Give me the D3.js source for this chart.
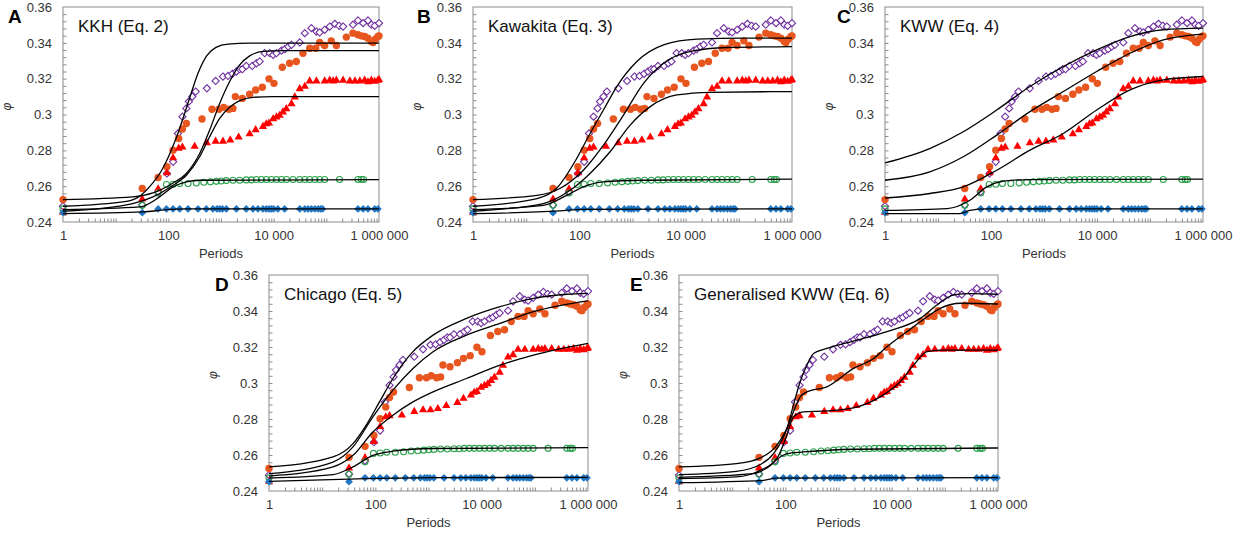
<!DOCTYPE html>
<html>
<head>
<meta charset="utf-8">
<script src="https://cdn.jsdelivr.net/npm/d3@7"></script>
<style>
  body { margin: 0; background: #fff; }
  svg { display: block; font-family: "Liberation Sans", Arial, sans-serif; }
</style>
</head>
<body>
<script>
// measured data, [periods, phi]
const purpleData = [[1,0.2488],[32,0.2495],[64,0.2568],[94,0.2671],[123,0.2736],[152,0.2894],[185,0.2988],[220,0.3034],[245,0.3072],[285,0.3100],[330,0.3128],[540,0.3146],[790,0.3187],[1090,0.3212],[1360,0.3215],[1650,0.3227],[1960,0.3240],[2260,0.3253],[2540,0.3253],[3020,0.3271],[3920,0.3271],[4700,0.3286],[5420,0.3296],[6770,0.3342],[8440,0.3342],[9760,0.3333],[11300,0.3342],[14100,0.3357],[16300,0.3365],[18900,0.3379],[21800,0.3389],[31300,0.3402],[39000,0.3454],[52100,0.3482],[64800,0.3463],[74700,0.3458],[93000,0.3473],[116000,0.3491],[145000,0.3506],[175000,0.3495],[208000,0.3491],[321000,0.3501],[399000,0.3525],[500000,0.3510],[618000,0.3525],[715000,0.3501],[830000,0.3495],[1000000,0.3510]];

const orangeData = [[1,0.2525],[32,0.2587],[64,0.2648],[94,0.2708],[123,0.2801],[157,0.2866],[185,0.2919],[220,0.2950],[436,0.2975],[675,0.3029],[916,0.3029],[1124,0.3040],[1419,0.3029],[1690,0.3034],[1871,0.3100],[2541,0.3090],[3500,0.3113],[4553,0.3137],[6090,0.3152],[8150,0.3199],[10140,0.3174],[14600,0.3264],[20100,0.3286],[26900,0.3296],[36000,0.3342],[48300,0.3370],[62700,0.3370],[74700,0.3402],[92900,0.3385],[124000,0.3411],[155000,0.3385],[240000,0.3432],[321000,0.3454],[399000,0.3445],[462000,0.3439],[534000,0.3435],[618000,0.3426],[715000,0.3407],[769000,0.3402],[851000,0.3420],[955000,0.3435],[1000000,0.3439]];

const redData = [[1,0.2456],[32,0.2530],[64,0.2587],[94,0.2676],[123,0.2760],[157,0.2814],[185,0.2820],[316,0.2824],[540,0.2844],[790,0.2853],[1090,0.2853],[1500,0.2860],[2160,0.2876],[3500,0.2894],[4550,0.2917],[6270,0.2935],[7230,0.2950],[8150,0.2954],[9760,0.2978],[11300,0.2988],[13000,0.2997],[15000,0.3016],[17400,0.3034],[21800,0.3062],[25200,0.3100],[31300,0.3146],[39000,0.3159],[48300,0.3189],[64800,0.3189],[93000,0.3189],[116000,0.3193],[135000,0.3189],[155000,0.3193],[208000,0.3193],[280000,0.3189],[350000,0.3189],[433000,0.3189],[534000,0.3193],[618000,0.3184],[715000,0.3193],[830000,0.3187],[955000,0.3193],[1000000,0.3197]];

const greenData = [[1,0.2473],[32,0.2493],[64,0.2562],[92,0.2609],[123,0.2611],[164,0.2615],[237,0.2615],[340,0.2618],[470,0.2622],[630,0.2624],[815,0.2627],[1010,0.2629],[1260,0.2631],[1690,0.2633],[2260,0.2633],[3020,0.2635],[3760,0.2635],[4700,0.2637],[5860,0.2637],[7260,0.2637],[9030,0.2637],[11300,0.2637],[14100,0.2637],[17500,0.2637],[23300,0.2637],[31300,0.2637],[39000,0.2637],[48300,0.2637],[60700,0.2637],[74700,0.2637],[93000,0.2637],[178000,0.2637],[399000,0.2637],[462000,0.2637],[510000,0.2637]];

const blueData = [[1,0.2452],[32,0.2452],[64,0.2473],[92,0.2473],[123,0.2473],[164,0.2473],[237,0.2473],[367,0.2473],[527,0.2473],[703,0.2473],[840,0.2473],[944,0.2473],[1060,0.2473],[1260,0.2473],[1960,0.2473],[3020,0.2473],[4050,0.2473],[5030,0.2473],[6270,0.2473],[7260,0.2473],[8150,0.2473],[9030,0.2473],[9990,0.2473],[12010,0.2473],[16140,0.2473],[31300,0.2473],[39000,0.2473],[45200,0.2473],[52100,0.2473],[60700,0.2473],[70000,0.2473],[78100,0.2473],[84700,0.2473],[399000,0.2473],[500000,0.2473],[618000,0.2473],[830000,0.2473],[955000,0.2473]];

// fitted curves
const kkhPurple = [[1,0.2488],[16,0.2515],[29,0.2545],[45,0.2600],[75,0.2689],[144,0.2876],[247,0.3081],[366,0.3230],[542,0.3330],[804,0.3375],[1358,0.3393],[3550,0.3398],[1000000,0.3398]];
const kkhOrange = [[1,0.2525],[21,0.2540],[51,0.2562],[123,0.2618],[220,0.2671],[394,0.2782],[609,0.2913],[944,0.3062],[1461,0.3184],[2262,0.3277],[3501,0.3327],[6268,0.3352],[15030,0.3357],[1000000,0.3357]];
const kkhRed = [[1,0.2460],[21,0.2503],[51,0.2540],[123,0.2605],[220,0.2661],[394,0.2764],[609,0.2876],[944,0.2978],[1461,0.3040],[2262,0.3077],[4053,0.3096],[9712,0.3100],[1000000,0.3100]];
const kkhGreen = [[1,0.2469],[29,0.2484],[68,0.2540],[123,0.2596],[220,0.2624],[394,0.2633],[1000000,0.2637]];
const kkhBlue = [[1,0.2447],[33,0.2456],[92,0.2469],[220,0.2473],[1000000,0.2473]];

const kawPurple = [[1,0.2488],[16,0.2531],[37,0.2587],[89,0.2754],[159,0.2894],[284,0.3025],[506,0.3156],[1208,0.3296],[3846,0.3389],[16370,0.3421],[124200,0.3426],[1000000,0.3426]];
const kawOrange = [[1,0.2525],[16,0.2549],[43,0.2587],[119,0.2689],[284,0.2829],[676,0.2997],[1614,0.3174],[3846,0.3286],[12250,0.3352],[60260,0.3374],[1000000,0.3379]];
const kawRed = [[1,0.2460],[21,0.2503],[67,0.2577],[159,0.2671],[379,0.2792],[904,0.2941],[2153,0.3044],[6855,0.3109],[29170,0.3124],[1000000,0.3128]];
const kawGreen = [[1,0.2469],[21,0.2493],[58,0.2549],[119,0.2596],[284,0.2624],[1614,0.2633],[1000000,0.2639]];
const kawBlue = [[1,0.2447],[43,0.2462],[119,0.2471],[1000000,0.2473]];

const kwwPurple = [[1,0.2730],[7,0.2810],[30,0.2904],[128,0.3025],[544,0.3156],[2317,0.3268],[9860,0.3361],[42000,0.3435],[178600,0.3473],[1000000,0.3482]];
const kwwOrange = [[1,0.2633],[7,0.2680],[30,0.2764],[128,0.2885],[544,0.3016],[2317,0.3128],[9860,0.3240],[42000,0.3342],[178600,0.3417],[1000000,0.3449]];
const kwwRed = [[1,0.2534],[7,0.2559],[30,0.2596],[128,0.2689],[544,0.2801],[2317,0.2894],[9860,0.3025],[42000,0.3137],[178600,0.3193],[1000000,0.3212]];
const kwwGreen = [[1,0.2465],[15,0.2475],[40,0.2521],[83,0.2596],[171,0.2628],[544,0.2637],[1000000,0.2639]];
const kwwBlue = [[1,0.2447],[26,0.2447],[40,0.2465],[83,0.2473],[1000000,0.2473]];

const chiPurple = [[1,0.2534],[16,0.2589],[38,0.2663],[67,0.2765],[120,0.2895],[214,0.3025],[510,0.3174],[1218,0.3266],[5190,0.3359],[22130,0.3424],[94400,0.3470],[402700,0.3493],[1000000,0.3498]];
const chiOrange = [[1,0.2496],[16,0.2561],[38,0.2645],[90,0.2812],[214,0.2960],[510,0.3081],[1218,0.3174],[5190,0.3266],[22130,0.3331],[94400,0.3396],[1000000,0.3456]];
const chiRed = [[1,0.2483],[16,0.2534],[38,0.2598],[90,0.2728],[214,0.2821],[510,0.2895],[1218,0.2951],[5190,0.3025],[22130,0.3099],[94400,0.3155],[1000000,0.3220]];
const chiGreen = [[1,0.2472],[16,0.2491],[38,0.2534],[90,0.2598],[214,0.2621],[1218,0.2636],[1000000,0.2641]];
const chiBlue = [[1,0.2454],[67,0.2469],[1218,0.2474],[1000000,0.2476]];

const gkwwPurple = [[1,0.2491],[12,0.2509],[34,0.2547],[60,0.2608],[107,0.2747],[142,0.2877],[190,0.3007],[254,0.3099],[339,0.3164],[604,0.3192],[1919,0.3233],[8147,0.3285],[34600,0.3359],[71200,0.3433],[146600,0.3489],[302000,0.3496],[1000000,0.3493]];
const gkwwOrange = [[1,0.2534],[12,0.2552],[34,0.2584],[69,0.2654],[107,0.2747],[142,0.2840],[190,0.2923],[254,0.2951],[604,0.2979],[1919,0.3081],[4571,0.3136],[8147,0.3201],[19410,0.3285],[34600,0.3340],[82200,0.3415],[196000,0.3443],[1000000,0.3439]];
const gkwwRed = [[1,0.2469],[12,0.2478],[34,0.2515],[69,0.2580],[107,0.2710],[142,0.2812],[220,0.2840],[604,0.2845],[1919,0.2862],[6095,0.2923],[14520,0.3007],[25880,0.3099],[46130,0.3174],[82200,0.3183],[1000000,0.3183]];
const gkwwGreen = [[1,0.2476],[25,0.2496],[45,0.2528],[80,0.2589],[107,0.2608],[220,0.2617],[1919,0.2632],[1000000,0.2639]];
const gkwwBlue = [[1,0.2446],[39,0.2459],[69,0.2472],[1000000,0.2474]];

// axis ticks
const xTicks = [1, 100, 10000, 1000000];
const xTickLabels = ["1", "100", "10 000", "1 000 000"];
const yTicks = [0.24, 0.26, 0.28, 0.3, 0.32, 0.34, 0.36];
const yTickLabels = ["0.24", "0.26", "0.28", "0.3", "0.32", "0.34", "0.36"];

const panels = [
  { letter: "A", title: "KKH (Eq. 2)", left: 63, right: 379, top: 7, bottom: 222, letterX: 8,
    fits: [kkhPurple, kkhOrange, kkhRed, kkhGreen, kkhBlue] },
  { letter: "B", title: "Kawakita (Eq. 3)", left: 473, right: 792, top: 7, bottom: 222, letterX: 417,
    fits: [kawPurple, kawOrange, kawRed, kawGreen, kawBlue] },
  { letter: "C", title: "KWW (Eq. 4)", left: 885, right: 1203, top: 7, bottom: 222, letterX: 837,
    fits: [kwwPurple, kwwOrange, kwwRed, kwwGreen, kwwBlue] },
  { letter: "D", title: "Chicago (Eq. 5)", left: 269, right: 588, top: 275, bottom: 491, letterX: 215,
    fits: [chiPurple, chiOrange, chiRed, chiGreen, chiBlue] },
  { letter: "E", title: "Generalised KWW (Eq. 6)", left: 679, right: 998, top: 275, bottom: 491, letterX: 630,
    fits: [gkwwPurple, gkwwOrange, gkwwRed, gkwwGreen, gkwwBlue] }
];

const diamond = r => `M0,${-r}L${r},0L0,${r}L${-r},0Z`;
const triangle = `M0,-4.3L4.1,2.8L-4.1,2.8Z`;

const series = [
  { data: purpleData, path: diamond(3.6), fill: "#fff", stroke: "#7030A0", sw: 1.1 },
  { data: orangeData, circle: 3.7, fill: "#E8561F", stroke: "none", sw: 0 },
  { data: redData, path: triangle, fill: "#FF0000", stroke: "none", sw: 0 },
  { data: greenData, circle: 3, fill: "none", stroke: "#2CA24E", sw: 1.1 },
  { data: blueData, path: diamond(3.9), fill: "#2177C4", stroke: "none", sw: 0 }
];

const frameColor = "#8c8c8c";

const svg = d3.select("body").append("svg")
  .attr("width", 1248)
  .attr("height", 536);

panels.forEach(p => {
  const g = svg.append("g");

  const x = d3.scaleLog().domain([1, 1000000]).range([p.left, p.right]);
  const y = d3.scaleLinear().domain([0.24, 0.36]).range([p.bottom, p.top]);

  // plot frame
  g.append("rect")
    .attr("x", p.left).attr("y", p.top)
    .attr("width", p.right - p.left).attr("height", p.bottom - p.top)
    .attr("fill", "none").attr("stroke", frameColor).attr("stroke-width", 1);

  // inward log ticks on x
  const xMinor = [];
  for (let e = 0; e < 6; e++) for (let m = 1; m < 10; m++) if (m * 10 ** e > 1) xMinor.push(m * 10 ** e);
  g.append("g")
    .attr("transform", `translate(0,${p.bottom})`)
    .call(d3.axisBottom(x).tickValues(xMinor).tickSize(-3.5).tickFormat(""))
    .call(s => s.select(".domain").remove())
    .selectAll("line").attr("stroke", frameColor);

  // inward ticks on y every 0.004
  const yMinor = d3.range(1, 30).map(i => 0.24 + i * 0.004);
  g.append("g")
    .attr("transform", `translate(${p.left},0)`)
    .call(d3.axisLeft(y).tickValues(yMinor).tickSize(-3.5).tickFormat(""))
    .call(s => s.select(".domain").remove())
    .selectAll("line").attr("stroke", frameColor);

  // x labels
  g.append("g")
    .attr("transform", `translate(0,${p.bottom})`)
    .call(d3.axisBottom(x).tickValues(xTicks).tickSize(0).tickPadding(9)
      .tickFormat(d => xTickLabels[xTicks.indexOf(d)]))
    .call(s => s.select(".domain").remove())
    .attr("font-size", 13).attr("font-family", null)
    .selectAll("text").attr("fill", "#333");

  // y labels
  g.append("g")
    .attr("transform", `translate(${p.left},0)`)
    .call(d3.axisLeft(y).tickValues(yTicks).tickSize(0).tickPadding(11)
      .tickFormat(d => yTickLabels[yTicks.indexOf(d)]))
    .call(s => s.select(".domain").remove())
    .attr("font-size", 13).attr("font-family", null)
    .selectAll("text").attr("fill", "#333");

  // axis titles
  g.append("text")
    .attr("x", (p.left + p.right) / 2).attr("y", p.bottom + 36)
    .attr("text-anchor", "middle").attr("font-size", 13).attr("fill", "#333")
    .text("Periods");

  const cy = (p.top + p.bottom) / 2 - 8;
  g.append("text")
    .attr("transform", `translate(${p.left - 52},${cy}) rotate(-90)`)
    .attr("text-anchor", "middle").attr("font-size", 12).attr("font-style", "italic")
    .attr("fill", "#333")
    .text("φ");

  // panel letter and title
  g.append("text")
    .attr("x", p.letterX).attr("y", p.top + 15.5)
    .attr("font-size", 19).attr("font-weight", "bold").attr("fill", "#000")
    .text(p.letter);

  g.append("text")
    .attr("x", p.left + 15).attr("y", p.top + 25)
    .attr("font-size", 17).attr("fill", "#111")
    .text(p.title);

  // data markers
  series.forEach(s => {
    const sel = g.append("g").selectAll("path, circle").data(s.data).enter();
    if (s.circle) {
      sel.append("circle")
        .attr("cx", d => x(d[0])).attr("cy", d => y(d[1]))
        .attr("r", s.circle)
        .attr("fill", s.fill).attr("stroke", s.stroke).attr("stroke-width", s.sw);
    } else {
      sel.append("path")
        .attr("transform", d => `translate(${x(d[0])},${y(d[1])})`)
        .attr("d", s.path)
        .attr("fill", s.fill).attr("stroke", s.stroke).attr("stroke-width", s.sw);
    }
  });

  // fitted curves
  const line = d3.line()
    .x(d => x(d[0]))
    .y(d => y(d[1]))
    .curve(d3.curveMonotoneX);

  g.append("g").selectAll("path")
    .data(p.fits)
    .enter()
    .append("path")
      .attr("d", line)
      .attr("fill", "none")
      .attr("stroke", "#000")
      .attr("stroke-width", 1.3);
});
</script>
</body>
</html>
